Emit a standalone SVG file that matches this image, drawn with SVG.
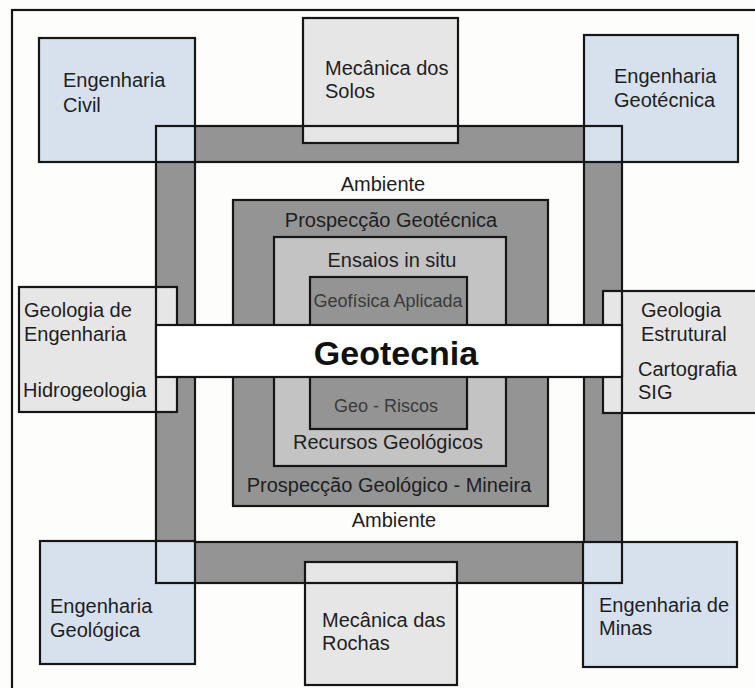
<svg xmlns="http://www.w3.org/2000/svg" width="755" height="688" viewBox="0 0 755 688">
<style>
text{font-family:"Liberation Sans",Arial,sans-serif;font-size:20px;fill:#1e1e1e}
.s{stroke:#161616;stroke-width:2.2}
.blue{fill:#d6e1ed}
.lg{fill:#e6e6e6}
.dk{fill:#949494}
.md{fill:#c3c3c3}
.c{text-anchor:middle}
.g{fill:#3a3a3a;font-size:18px}
</style>
<rect x="0" y="0" width="755" height="688" fill="#fdfdfc"/>
<rect id="frame" class="s" x="12" y="10" width="800" height="800" fill="#fdfdfc"/>
<g id="ambiente-ring-fill">
<path class="dk" fill-rule="evenodd" d="M156 126H622V583H156Z M195 162V542H584V162Z"/>
</g>
<g id="prospeccao">
<rect class="s dk" x="233" y="200" width="315" height="306"/>
</g>
<g id="ensaios">
<rect class="s md" x="274" y="237" width="232" height="229"/>
</g>
<g id="geofisica">
<rect class="s dk" x="310" y="277" width="157" height="152"/>
</g>
<g id="eng-civil"><rect class="s blue" x="39" y="38" width="156" height="124"/></g>
<g id="mec-solos"><rect class="s lg" x="303" y="18" width="155" height="125"/></g>
<g id="eng-geotecnica"><rect class="s blue" x="584" y="35" width="154" height="127"/></g>
<g id="geol-eng"><rect class="s lg" x="19" y="287" width="158" height="125"/></g>
<g id="geol-estrutural"><rect class="s lg" x="603" y="291" width="200" height="122"/></g>
<g id="eng-geologica"><rect class="s blue" x="40" y="541" width="155" height="123"/></g>
<g id="mec-rochas"><rect class="s lg" x="305" y="562" width="152" height="123"/></g>
<g id="eng-minas"><rect class="s blue" x="583" y="542" width="154" height="125"/></g>
<g id="ambiente-ring-outline" fill="none">
<rect class="s" x="156" y="126" width="466" height="457"/>
<rect class="s" x="195" y="162" width="389" height="380"/>
</g>
<g id="geotecnia">
<rect class="s" x="156" y="325" width="466" height="52" fill="#ffffff"/>
<text class="c" x="396" y="365" style="font-size:34px;font-weight:bold;fill:#111">Geotecnia</text>
</g>
<g id="connectors"/>
<g id="labels">
<text x="63" y="87">Engenharia</text>
<text x="63" y="112">Civil</text>
<text x="325" y="75">Mecânica dos</text>
<text x="325" y="98">Solos</text>
<text x="614" y="83">Engenharia</text>
<text x="614" y="107">Geotécnica</text>
<text class="c" x="383" y="191">Ambiente</text>
<text class="c" x="391" y="227">Prospecção Geotécnica</text>
<text class="c" x="392" y="267">Ensaios in situ</text>
<text class="c g" x="388" y="307">Geofísica Aplicada</text>
<text class="c g" x="386" y="412">Geo - Riscos</text>
<text class="c" x="388" y="449">Recursos Geológicos</text>
<text class="c" x="389" y="492">Prospecção Geológico - Mineira</text>
<text class="c" x="394" y="527">Ambiente</text>
<text x="24" y="317">Geologia de</text>
<text x="24" y="341">Engenharia</text>
<text x="23" y="397">Hidrogeologia</text>
<text x="641" y="317">Geologia</text>
<text x="641" y="341">Estrutural</text>
<text x="638" y="376">Cartografia</text>
<text x="638" y="399">SIG</text>
<text x="50" y="613">Engenharia</text>
<text x="50" y="637">Geológica</text>
<text x="322" y="627">Mecânica das</text>
<text x="322" y="650">Rochas</text>
<text x="599" y="612">Engenharia de</text>
<text x="599" y="635">Minas</text>
</g>
</svg>
